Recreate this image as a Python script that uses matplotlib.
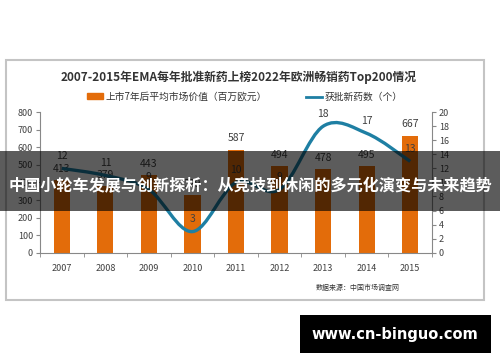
import matplotlib
matplotlib.use('Agg')
import matplotlib.pyplot as plt
import numpy as np
from matplotlib.path import Path
from matplotlib.patches import PathPatch, Patch, Rectangle
from matplotlib.lines import Line2D

plt.rcParams['font.family'] = ['Noto Sans CJK SC', 'DejaVu Sans']

# 数据
years = ['2007', '2008', '2009', '2010', '2011', '2012', '2013', '2014', '2015']
market_value = [413, 379, 443, 329, 587, 494, 478, 495, 667]   # 百万欧元
new_drugs = [12, 11, 9, 3, 10, 9, 18, 17, 13]                   # 个
title = '2007-2015年EMA每年批准新药上榜2022年欧洲畅销药Top200情况'
bar_name = '上市7年后平均市场价值（百万欧元）'
line_name = '获批新药数（个）'
source = '数据来源：中国市场调查网'
overlay = '中国小轮车发展与创新探析：从竞技到休闲的多元化演变与未来趋势'
site = 'www.cn-binguo.com'

ORANGE = '#E36C0A'
BLUE = '#1E7FA3'
GRAY = '#404040'

fig = plt.figure(figsize=(5, 3.62), dpi=100)
fig.patch.set_facecolor('white')

# 图表外框
fig.patches.append(Rectangle((0.012, 0.171), 0.956, 0.663, transform=fig.transFigure,
                             fill=False, edgecolor='#c4c4c4', lw=1.5))

ax = fig.add_axes([0.08, 0.302, 0.784, 0.388])
x = np.arange(len(years))
bars = ax.bar(x, market_value, width=0.37, color=ORANGE, zorder=2)
for xi, v in zip(x, market_value):
    ax.text(xi, v + 35, str(v), ha='center', va='bottom', fontsize=7.5, color=GRAY)

ax.set_xlim(-0.5, len(years) - 0.5)
ax.set_ylim(0, 800)
ax.set_yticks(range(0, 801, 100))
ax.set_xticks(x)
ax.set_xticklabels(years)
ax.set_xticks(np.arange(-0.5, len(years), 1), minor=True)
ax.tick_params(axis='x', which='major', length=0, pad=8, labelsize=6.5, labelcolor=GRAY)
ax.tick_params(axis='x', which='minor', length=3, color='#888888')
ax.tick_params(axis='y', length=3, color='#888888', labelsize=6.5, labelcolor=GRAY, pad=2)
for s in ['top', 'right']:
    ax.spines[s].set_visible(False)
ax.spines['left'].set_color('#888888')
ax.spines['bottom'].set_color('#888888')

# 右轴：平滑折线
ax2 = ax.twinx()
ax2.set_ylim(0, 20)
ax2.set_yticks(range(0, 21, 2))
ax2.tick_params(axis='y', length=3, color='#888888', labelsize=6.5, labelcolor=GRAY, pad=2)
for s in ['top', 'left', 'bottom']:
    ax2.spines[s].set_visible(False)
ax2.spines['right'].set_color('#888888')

pts = np.column_stack([x, new_drugs]).astype(float)
ext = np.vstack([pts[0], pts, pts[-1]])
verts = [tuple(pts[0])]
codes = [Path.MOVETO]
for i in range(len(pts) - 1):
    p0, p1, p2, p3 = ext[i], ext[i + 1], ext[i + 2], ext[i + 3]
    c1 = p1 + (p2 - p0) / 6
    c2 = p2 - (p3 - p1) / 6
    verts += [tuple(c1), tuple(c2), tuple(p2)]
    codes += [Path.CURVE4] * 3
ax2.add_patch(PathPatch(Path(verts, codes), fill=False, edgecolor=BLUE, lw=2.4, zorder=3))
for xi, v in zip(x, new_drugs):
    ax2.text(xi, v + 1.1, str(v), ha='center', va='bottom', fontsize=7.5, color=GRAY, zorder=4)

fig.text(0.478, 0.786, title, ha='center', va='center', fontsize=8.5, fontweight='bold', color='#333333')
handles = [Patch(color=ORANGE), Line2D([0], [0], color=BLUE, lw=2)]
fig.legend(handles, [bar_name, line_name], loc='center', bbox_to_anchor=(0.49, 0.733),
           ncol=2, frameon=False, fontsize=7, handlelength=1.6, handleheight=0.5,
           columnspacing=4, handletextpad=0.3, labelcolor='#333333')
fig.text(0.715, 0.205, source, ha='center', va='center', fontsize=5, color='#333333')

# 遮罩横幅
fig.patches.append(Rectangle((0, 0.418), 1, 0.165, transform=fig.transFigure,
                             facecolor='black', alpha=0.64, edgecolor='none', zorder=10))
fig.text(0.5, 0.486, overlay, ha='center', va='center', fontsize=11.6, fontweight='bold',
         color='white', zorder=11)

# 水印
fig.patches.append(Rectangle((0.6, 0.025), 0.382, 0.105, transform=fig.transFigure,
                             facecolor='black', edgecolor='none', zorder=10))
fig.text(0.789, 0.077, site, ha='center', va='center', fontsize=10.5, fontweight='bold',
         color='white', family=['DejaVu Sans'], zorder=11)

fig.savefig('out.png', dpi=100)
